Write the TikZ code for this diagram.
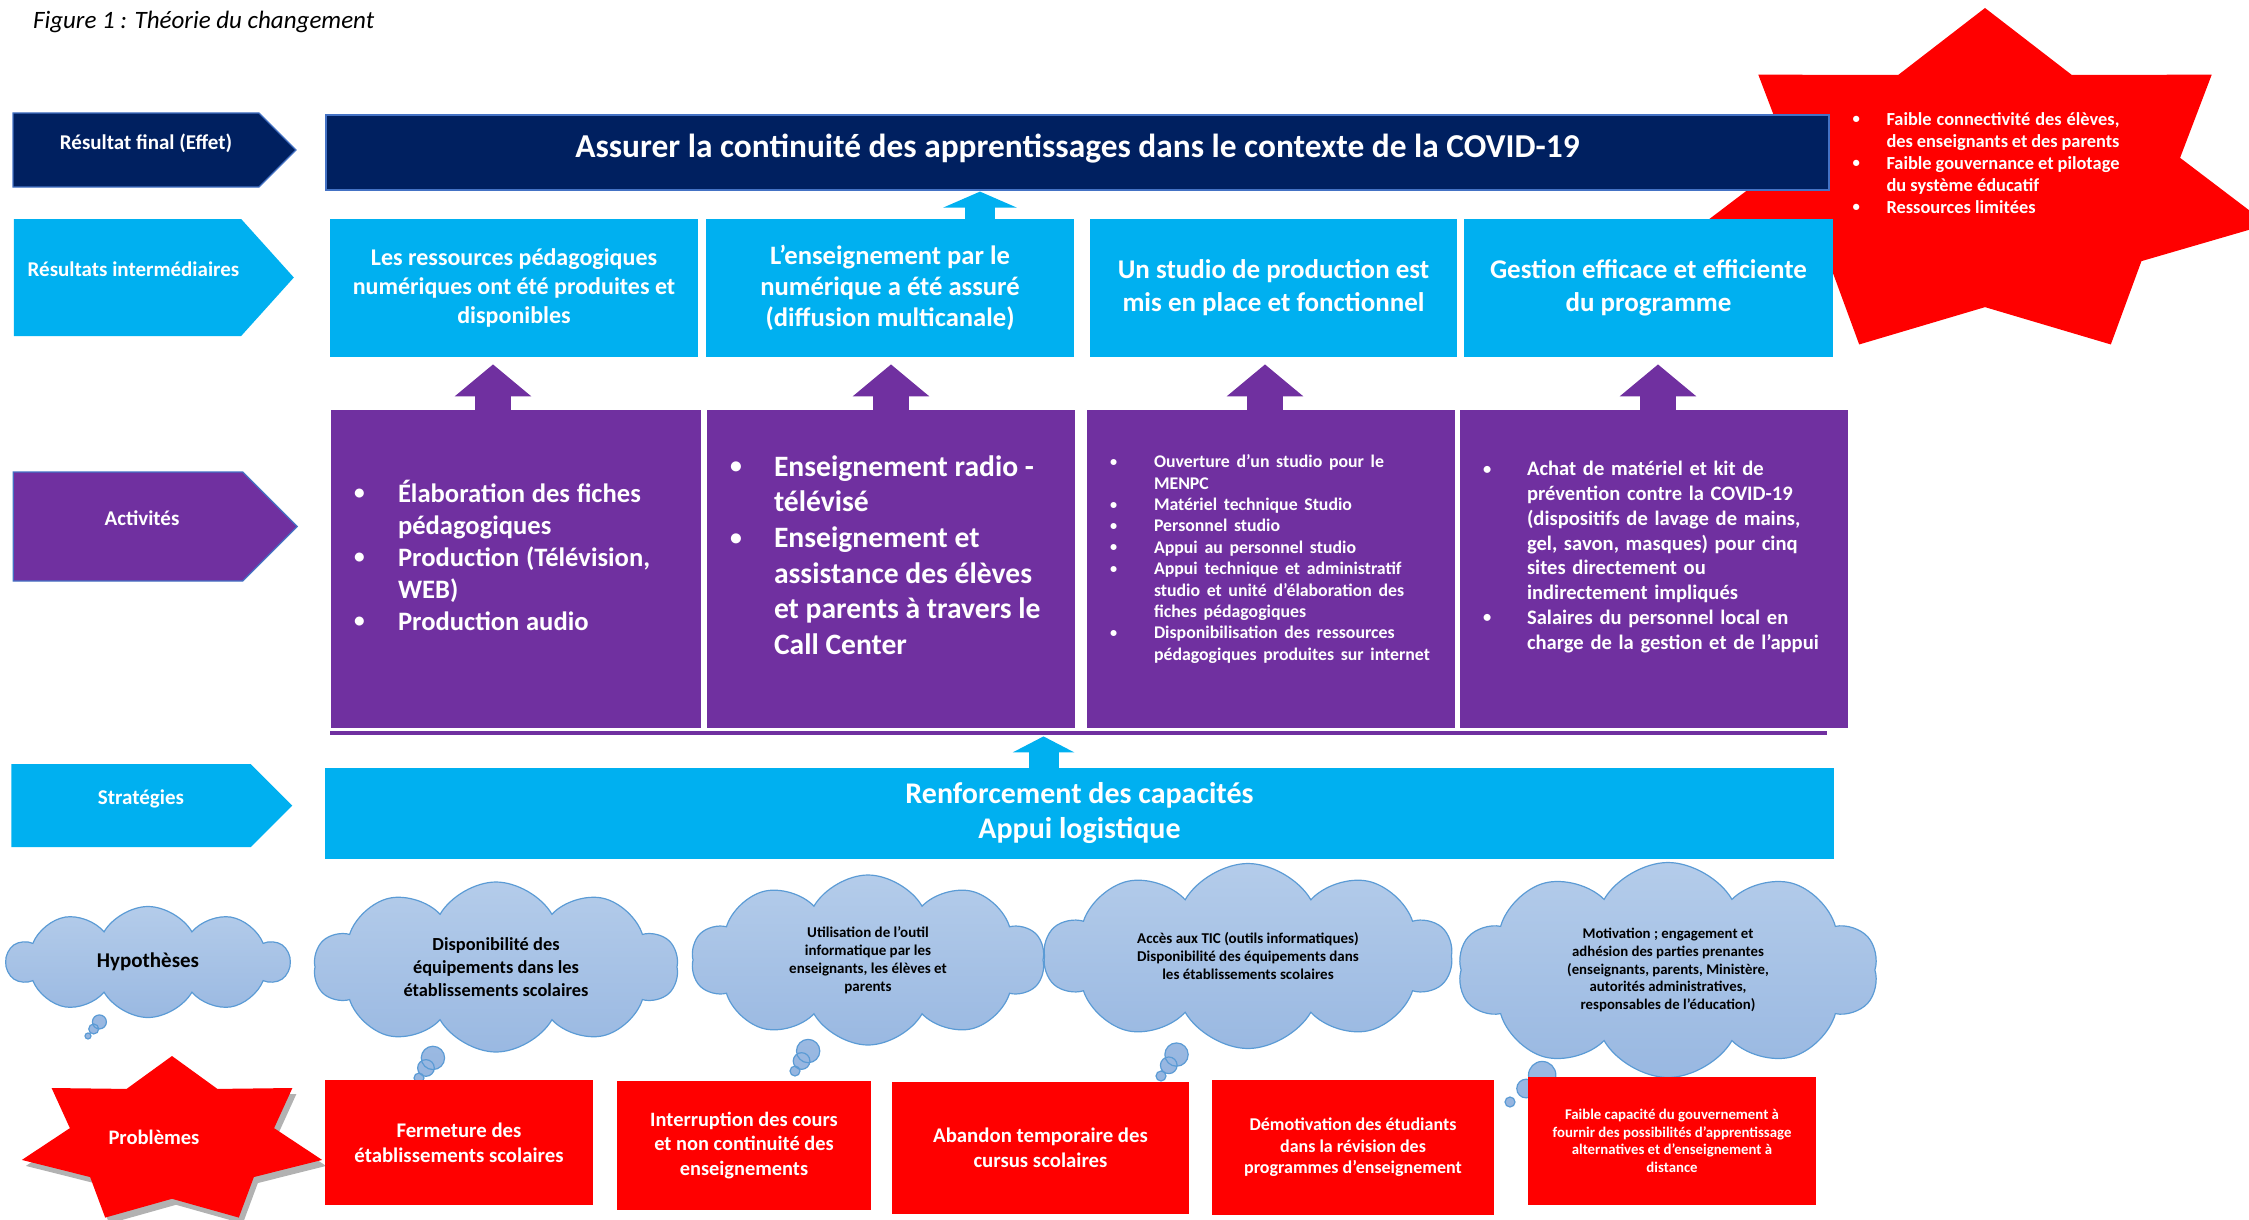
\documentclass[tikz,border=0pt]{standalone}
\usepackage{fontspec}
\usepackage{graphicx}
\setmainfont{Carlito}
\usetikzlibrary{arrows.meta,shapes.symbols,shapes.callouts}
\definecolor{navybox}{HTML}{002060}
\definecolor{cyanbox}{HTML}{00B0F0}
\definecolor{purplebox}{HTML}{7030A0}
\definecolor{redbox}{HTML}{FF0000}
\definecolor{edgeblue}{HTML}{4472C4}
\definecolor{cloudtop}{HTML}{B4CCEA}
\definecolor{cloudbot}{HTML}{95B5E0}
\definecolor{cloudedge}{HTML}{5B9BD5}
\newlength\puceind
\setlength\puceind{22pt}
\newcommand{\puce}[1]{\noindent\hangindent=\puceind\hangafter=1\makebox[\puceind][l]{\raisebox{.08em}{\scalebox{.8}{\textbullet}}}#1\par}
\newcommand{\fsz}[2]{\fontsize{#1}{#2}\selectfont}

\begin{document}
\begin{tikzpicture}[x=0.5pt,y=-0.5pt,
	rowtag/.style={signal, signal to=east, signal pointer angle=90, text=white, font=\bfseries\fsz{10.5}{12}, inner sep=0pt, text depth=8pt},
	box/.style={rectangle, inner sep=0pt, align=center, text=white, font=\bfseries},
	act/.style={rectangle, fill=purplebox, text=white, font=\bfseries, align=left, minimum height=159pt, inner xsep=11.5pt, inner ysep=0pt},
	hypo/.style={cloud callout, cloud puffs=10, cloud puff arc=120, cloud ignores aspect, callout pointer segments=3, callout pointer start size=15pt, callout pointer end size=5pt, draw=cloudedge, line width=.6pt, top color=cloudtop, bottom color=cloudbot, align=center, inner sep=0pt, font=\bfseries},
	purpleup/.style={draw=purplebox, line width=18pt, -{Triangle[width=37.5pt,length=16pt]}, shorten >=3.5pt},
	cyanup/.style={draw=cyanbox, line width=15pt, -{Triangle[width=#1,length=8pt]}}]
	\useasboundingbox (0,0) rectangle (2249,1220);

	\fill [redbox] plot [samples at={0,...,13}] ({1985+290*(1-.31*mod(\x,2))*cos(90+\x*180/7)}, {185-177*(1-.31*mod(\x,2))*sin(90+\x*180/7)}) -- cycle;
	\node [text=white, font=\bfseries\fsz{9.2}{11}, text width=133.5pt, align=justify] (risks) at (1986,163) {\setlength\puceind{17pt}\puce{Faible connectivité des élèves,\linebreak des enseignants et des parents}\puce{Faible gouvernance et pilotage\linebreak du système éducatif}\puce{Ressources limitées}};

	\node [anchor=west, font=\itshape\fsz{12.5}{14}] (caption) at (26,22) {Figure 1 : Théorie du changement};

	\node [rowtag, fill=navybox, draw=edgeblue, line width=.6pt, minimum width=141.5pt, minimum height=37pt] (lab0) at (136,150) {\hspace*{10pt}Résultat final (Effet)};
	\node [rowtag, fill=cyanbox, signal pointer angle=96, minimum width=140pt, minimum height=58.5pt] (lab1) at (127.5,277.5) {\hspace*{6pt}Résultats intermédiaires};
	\node [rowtag, fill=purplebox, draw=edgeblue, line width=.6pt, minimum width=142pt, minimum height=54.5pt] (lab2) at (128,526.5) {\hspace*{14pt}Activités};
	\node [rowtag, fill=cyanbox, minimum width=140.5pt, minimum height=41.5pt] (lab3) at (131,805.5) {\hspace*{10pt}Stratégies};

	\node [box, fill=navybox, draw=edgeblue, line width=.6pt, minimum width=751.5pt, minimum height=37.5pt, text depth=7pt, font=\bfseries\fsz{16.7}{20}] (goal) at (1077.5,152.5) {Assurer la continuité des apprentissages dans le contexte de la COVID-19};

	\node [box, fill=cyanbox, minimum width=184pt, minimum height=69pt, font=\bfseries\fsz{12}{14.5}] (ir1) at (514,288) {Les ressources pédagogiques\\ numériques ont été produites et\\ disponibles};
	\node [box, fill=cyanbox, minimum width=184pt, minimum height=69pt, font=\bfseries\fsz{13.3}{15.5}] (ir2) at (890,288) {L'enseignement par le\\ numérique a été assuré\\ (diffusion multicanale)};
	\node [box, fill=cyanbox, minimum width=183.5pt, minimum height=69pt, font=\bfseries\fsz{13.5}{16.5}] (ir3) at (1273.5,288) {Un studio de production est\\ mis en place et fonctionnel};
	\node [box, fill=cyanbox, minimum width=184.5pt, minimum height=69pt, font=\bfseries\fsz{13.5}{16.5}] (ir4) at (1648.5,288) {Gestion efficace et efficiente\\ du programme};

	\node [act, text width=162pt] (act1) at (516,569) {\fsz{13.3}{16}\puce{Élaboration des fiches\newline pédagogiques}\puce{Production (Télévision,\newline WEB)}\puce{Production audio}\vspace{14pt}};
	\node [act, text width=161pt] (act2) at (891,569) {\fsz{14.8}{17.8}\puce{Enseignement radio -\newline télévisé}\puce{Enseignement et\newline assistance des élèves\newline et parents à travers le\newline Call Center}\vspace{14pt}};
	\node [act, text width=161pt] (act3) at (1271,569) {\fsz{8.9}{10.7}\puce{Ouverture d'un studio pour le\newline MENPC}\puce{Matériel technique Studio}\puce{Personnel studio}\puce{Appui au personnel studio}\puce{Appui technique et administratif\newline studio et unité d'élaboration des\newline fiches pédagogiques}\puce{Disponibilisation des ressources\newline pédagogiques produites sur internet}\vspace{10pt}};
	\node [act, text width=171pt] (act4) at (1654,569) {\fsz{10.3}{12.4}\puce{Achat de matériel et kit de\newline prévention contre la COVID-19\newline (dispositifs de lavage de mains,\newline gel, savon, masques) pour cinq\newline sites directement ou\newline indirectement impliqués}\puce{Salaires du personnel local en\newline charge de la gestion et de l’appui}\vspace{12pt}};
	\draw [purplebox, line width=2pt] (330,733) -- (1827,733);

	\node [box, fill=cyanbox, minimum width=754.5pt, minimum height=45.5pt, font=\bfseries\fsz{15}{17.5}] (strat) at (1079.5,813.5) {Renforcement des capacités\\ Appui logistique};

	\draw [cyanup=36.5pt, shorten >=.5pt] ([xshift=45pt]ir2.north) -- ([xshift=45pt]ir2.north |- goal.south);
	\draw [purpleup] ([xshift=-11.5pt]act1.north) -- ([xshift=-11.5pt]act1.north |- ir1.south);
	\draw [purpleup] (act2.north) -- (act2.north |- ir2.south);
	\draw [purpleup] ([xshift=-3pt]act3.north) -- ([xshift=-3pt]act3.north |- ir3.south);
	\draw [purpleup] ([xshift=2pt]act4.north) -- ([xshift=2pt]act4.north |- ir4.south);
	\draw [cyanup=30.5pt, shorten >=4pt] ([xshift=-18pt]strat.north) -- ([xshift=-18pt]strat.north |- act2.south);

	\node [hypo, minimum width=141pt, minimum height=55.5pt, callout pointer start size=9pt, callout pointer end size=3pt, callout absolute pointer={(88,1036)}, font=\bfseries\fsz{10.5}{12}] (hyp) at (148,962) {Hypothèses};
	\node [hypo, minimum width=182pt, minimum height=85pt, callout absolute pointer={(419,1078)}, font=\bfseries\fsz{9.2}{11.5}] (h1) at (496,967) {Disponibilité des\\ équipements dans les\\ établissements scolaires};
	\node [hypo, minimum width=176.5pt, minimum height=85pt, callout absolute pointer={(795,1071)}, font=\bfseries\fsz{7.5}{9}] (h2) at (868,960) {Utilisation de l’outil\\ informatique par les\\ enseignants, les élèves et\\ parents};
	\node [hypo, minimum width=204pt, minimum height=92.5pt, callout absolute pointer={(1161,1076)}, font=\bfseries\fsz{7.5}{9}] (h3) at (1248,956) {Accès aux TIC (outils informatiques)\\ Disponibilité des équipements dans\\ les établissements scolaires};
	\node [hypo, minimum width=210pt, minimum height=107.5pt, callout pointer start size=18pt, callout absolute pointer={(1510,1102)}, font=\bfseries\fsz{7.4}{8.85}] (h4) at (1668,970) {Motivation ; engagement et\\ adhésion des parties prenantes\\ (enseignants, parents, Ministère,\\ autorités administratives,\\ responsables de l’éducation)};

	\fill [black, opacity=.3] plot [samples at={0,...,13}] ({176+154*(1-.32*mod(\x,2))*cos(90+\x*180/7)}, {1147-85*(1-.32*mod(\x,2))*sin(90+\x*180/7)}) -- cycle;
	\fill [redbox] plot [samples at={0,...,13}] ({172+154*(1-.32*mod(\x,2))*cos(90+\x*180/7)}, {1141-85*(1-.32*mod(\x,2))*sin(90+\x*180/7)}) -- cycle;
	\node [text=white, font=\bfseries\fsz{10.3}{12}] (prob) at (154,1137) {Problèmes};

	\node [box, fill=redbox, minimum width=134pt, minimum height=62.5pt, font=\bfseries\fsz{10.4}{12.5}] (p1) at (459,1142.5) {Fermeture des\\ établissements scolaires};
	\node [box, fill=redbox, minimum width=127pt, minimum height=64.5pt, font=\bfseries\fsz{10.2}{12.25}] (p2) at (744,1145.5) {Interruption des cours\\ et non continuité des\\ enseignements};
	\node [box, fill=redbox, minimum width=148.5pt, minimum height=66pt, font=\bfseries\fsz{10.4}{12.5}] (p3) at (1040.5,1148) {Abandon temporaire des\\ cursus scolaires};
	\node [box, fill=redbox, minimum width=141pt, minimum height=67.5pt, font=\bfseries\fsz{9}{10.75}] (p4) at (1353,1147.5) {Démotivation des étudiants\\ dans la révision des\\ programmes d'enseignement};
	\node [box, fill=redbox, minimum width=144pt, minimum height=64pt, font=\bfseries\fsz{7.4}{8.85}] (p5) at (1672,1141) {Faible capacité du gouvernement à\\ fournir des possibilités d'apprentissage\\ alternatives et d'enseignement à\\ distance};
\end{tikzpicture}
\end{document}
